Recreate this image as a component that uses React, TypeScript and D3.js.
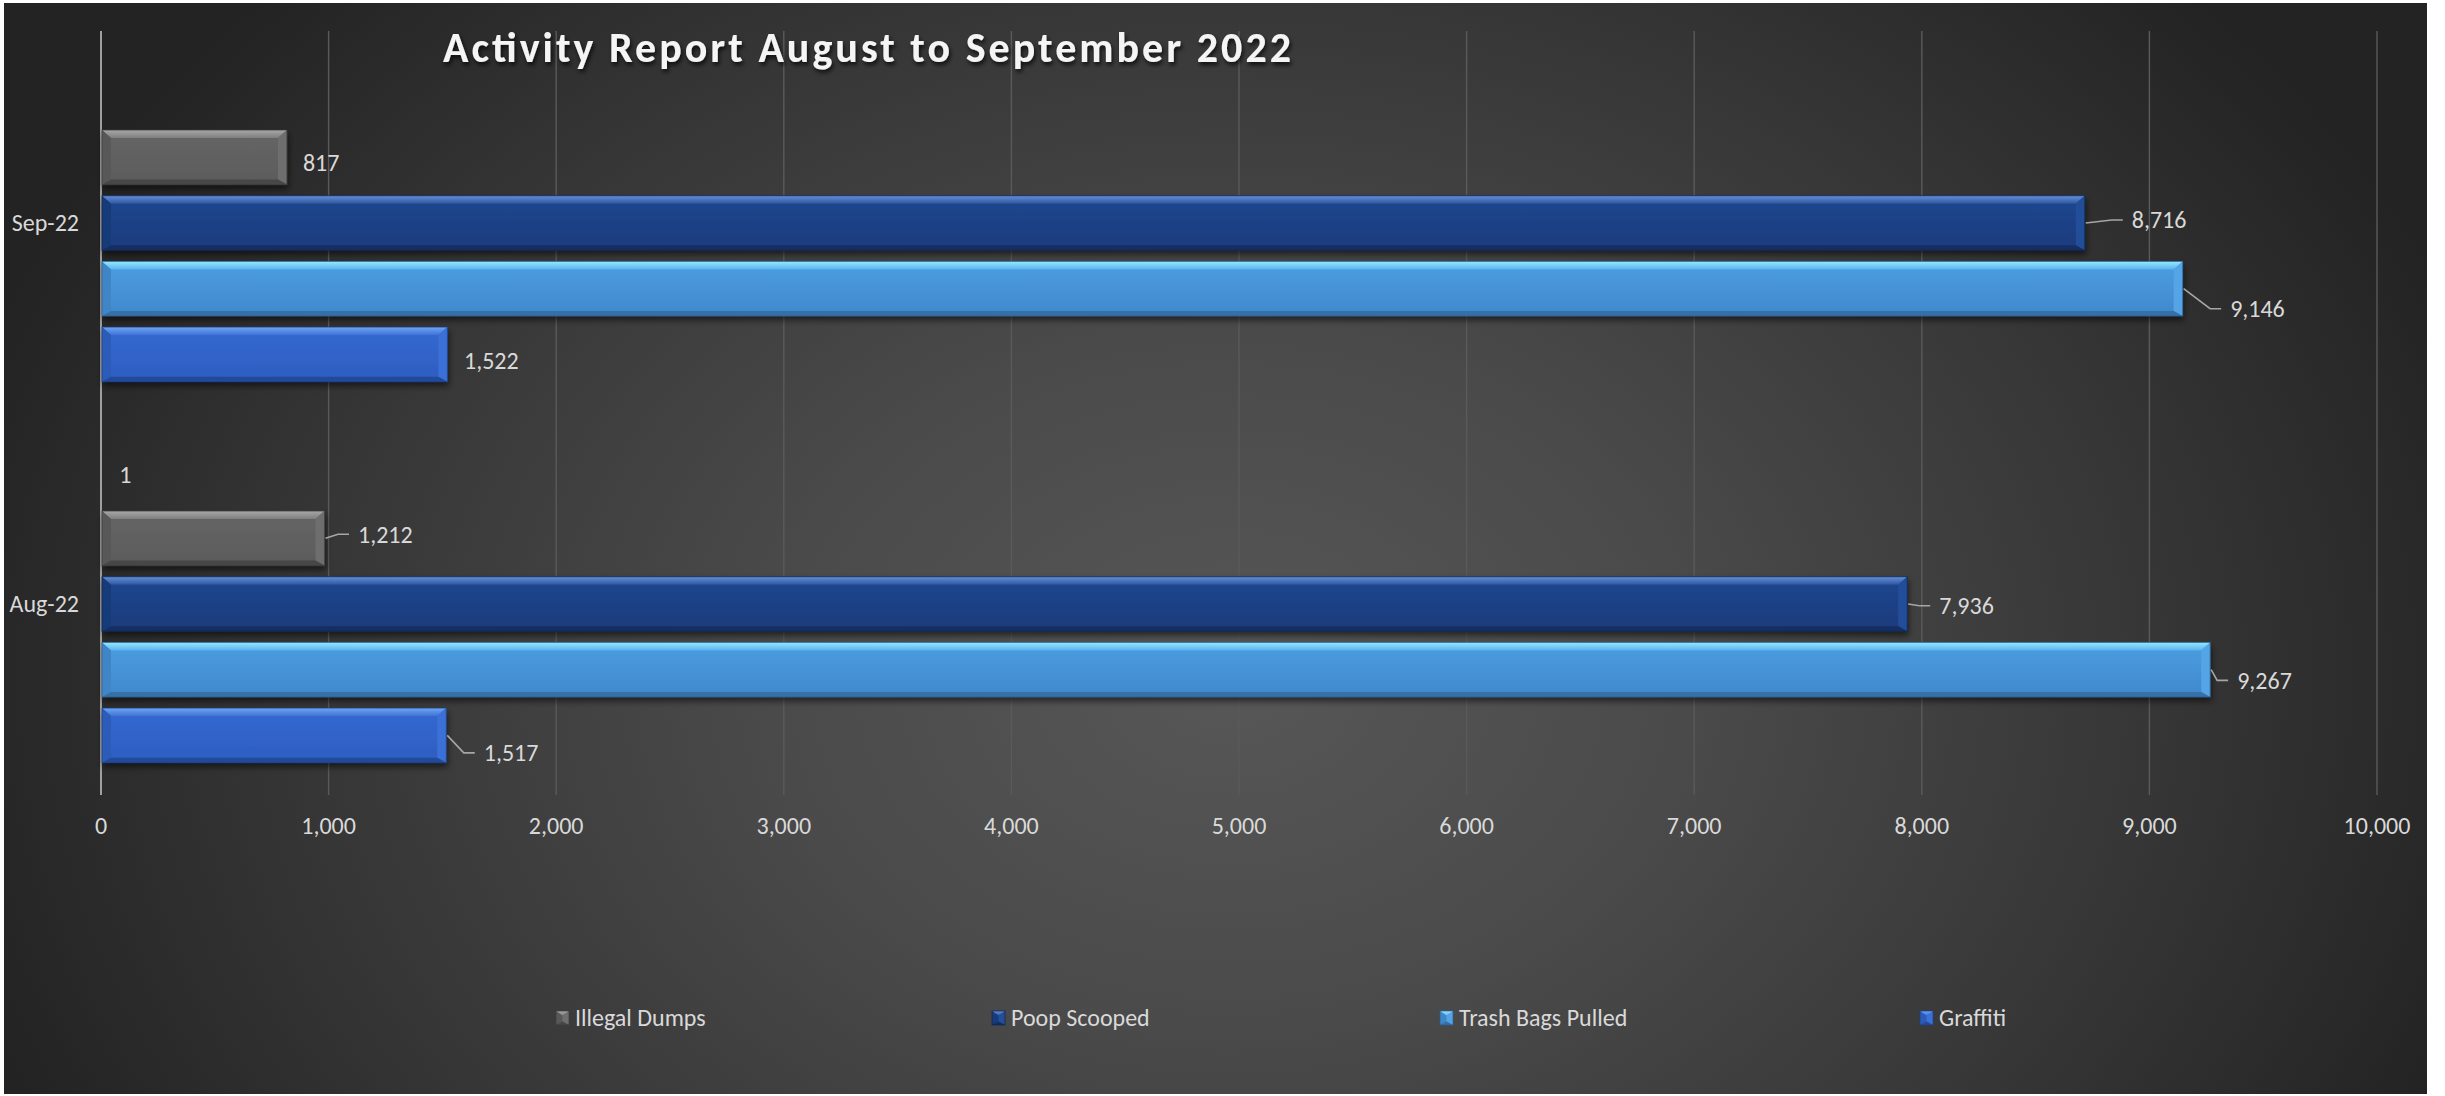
import React from 'react';
import * as d3 from 'd3';

// ---------- DATA ----------
const categories = ['Sep-22', 'Aug-22']; // top to bottom
const seriesKeys = ['extra', 'illegal', 'poop', 'trash', 'graffiti']; // top to bottom in a group
const seriesNames = ['', 'Illegal Dumps', 'Poop Scooped', 'Trash Bags Pulled', 'Graffiti'];
// values ordered as categories: [Sep-22, Aug-22]
const extraSeries: (number | null)[] = [null, 1];
const illegalDumps = [817, 982];
const poopScooped = [8716, 7936];
const trashBagsPulled = [9146, 9267];
const graffiti = [1522, 1517];
const illegalDumpsLabels = ['817', '1,212'];
const xTickValues = [0, 1000, 2000, 3000, 4000, 5000, 6000, 7000, 8000, 9000, 10000];
const title = 'Activity Report August to September 2022';

// ---------- LAYOUT / STYLE ----------
const W = 2445;
const H = 1096;
const FONT = "Carlito, Calibri, 'Open Sans', sans-serif";
const FS = 24;
const seriesValues = [extraSeries, illegalDumps, poopScooped, trashBagsPulled, graffiti];

// label placement relative to bar end (dx) and bar centre (dy); leader = has leader line
const labelLayout: Record<string, { dx: number; dy: number; leader: boolean }[]> = {
  extra: [{ dx: 18, dy: 1.5, leader: false }, { dx: 18, dy: 1.5, leader: false }],
  illegal: [{ dx: 16, dy: 5, leader: false }, { dx: 33.5, dy: -4, leader: true }],
  poop: [{ dx: 47, dy: -3, leader: true }, { dx: 32, dy: 1.7, leader: true }],
  trash: [{ dx: 47.5, dy: 20, leader: true }, { dx: 27, dy: 10.7, leader: true }],
  graffiti: [{ dx: 16.6, dy: 6.7, leader: false }, { dx: 37.5, dy: 17.5, leader: true }],
};

type Pal = { t1: string; t2: string; b1: string; b2: string; l: string; r: string; bo: string; st: string };
const palettes: Record<string, Pal> = {
  extra: { t1: '#a3a3a3', t2: '#7a7a7a', b1: '#666', b2: '#5a5a5a', l: '#575757', r: '#6d6d6d', bo: '#474747', st: '#3a3a3a' },
  illegal: { t1: '#a8a8a8', t2: '#7e7e7e', b1: '#666666', b2: '#5b5b5b', l: '#585858', r: '#6e6e6e', bo: '#474747', st: '#3c3c3c' },
  poop: { t1: '#658fda', t2: '#2f579e', b1: '#1f4790', b2: '#1a3b7b', l: '#193b79', r: '#244e98', bo: '#132f63', st: '#0e2450' },
  trash: { t1: '#95e8ff', t2: '#5ab4ee', b1: '#4d9de2', b2: '#3f89cc', l: '#3f86c6', r: '#54a4e5', bo: '#356fa6', st: '#2b5e91' },
  graffiti: { t1: '#70a5f4', t2: '#3e73d6', b1: '#3569d1', b2: '#2d5ec0', l: '#2c5bb8', r: '#3b70d6', bo: '#24499a', st: '#1d3f88' },
};

const legendX = [556, 992, 1440, 1920];

const x = d3.scaleLinear().domain([0, 10000]).range([101, 2377]);
const y = d3.scaleBand<string>().domain(categories).range([32.5, 794.5]).paddingInner(0).paddingOuter(0);
const inner = d3.scaleBand<string>().domain(seriesKeys).range([0, y.bandwidth()]).paddingInner(0.17).paddingOuter(0.485);
const fmt = d3.format(',');

function BevelBar({ x0, x1, y0, h, k }: { x0: number; x1: number; y0: number; h: number; k: string }) {
  const y1 = y0 + h;
  const w = x1 - x0;
  const bs = Math.min(9, w / 2);
  const bt = Math.min(8, h / 3);
  const bb = Math.min(5, h / 4);
  const pts = (a: number[][]) => a.map((p) => p.join(',')).join(' ');
  const p = palettes[k];
  return (
    <g>
      <rect x={x0} y={y0} width={w} height={h} fill={`url(#body-${k})`} />
      <polygon points={pts([[x0, y0], [x1, y0], [x1 - bs, y0 + bt], [x0 + bs, y0 + bt]])} fill={`url(#top-${k})`} />
      <polygon points={pts([[x0, y0], [x0 + bs, y0 + bt], [x0 + bs, y1 - bb], [x0, y1]])} fill={p.l} />
      <polygon points={pts([[x1, y0], [x1, y1], [x1 - bs, y1 - bb], [x1 - bs, y0 + bt]])} fill={p.r} />
      <polygon points={pts([[x0, y1], [x0 + bs, y1 - bb], [x1 - bs, y1 - bb], [x1, y1]])} fill={p.bo} />
      <rect x={x0} y={y0} width={w} height={h} fill="none" stroke={p.st} strokeWidth={1} strokeOpacity={0.7} />
    </g>
  );
}

export default function App() {
  const bars: React.ReactNode[] = [];
  const labels: React.ReactNode[] = [];
  categories.forEach((cat, ci) => {
    seriesKeys.forEach((k, si) => {
      const v = seriesValues[si][ci];
      if (v == null) return;
      const by = (y(cat) as number) + (inner(k) as number);
      const bh = inner.bandwidth();
      const xe = x(v);
      const yc = by + bh / 2;
      if (v >= 10) {
        bars.push(
          <g key={`b-${cat}-${k}`} filter="url(#barShadow)">
            <BevelBar x0={x(0) + 1} x1={xe} y0={by} h={bh} k={k} />
          </g>
        );
      }
      const lay = labelLayout[k][ci];
      const lx = xe + lay.dx;
      const ly = yc + lay.dy;
      const txt = k === 'illegal' ? illegalDumpsLabels[ci] : fmt(v);
      if (lay.leader) {
        labels.push(
          <path
            key={`ll-${cat}-${k}`}
            d={`M${xe + 1},${yc} L${lx - 20},${ly} L${lx - 9},${ly}`}
            fill="none"
            stroke="#a6a6a6"
            strokeWidth={1.6}
          />
        );
      }
      labels.push(
        <text key={`l-${cat}-${k}`} x={lx} y={ly} dy="0.35em" fill="#d9d9d9" fontSize={FS} fontFamily={FONT}>
          {txt}
        </text>
      );
    });
  });

  return (
    <div style={{ position: 'absolute', left: 0, top: 0, width: W, height: H, background: '#fff' }}>
      <svg width={W} height={H} viewBox={`0 0 ${W} ${H}`} style={{ display: 'block' }}>
        <defs>
          <radialGradient
            id="bg"
            gradientUnits="userSpaceOnUse"
            cx="0"
            cy="0"
            r="1"
            gradientTransform="translate(1230,680) scale(1320,1000)"
          >
            <stop offset="0" stopColor="#575757" />
            <stop offset="0.35" stopColor="#4a4a4a" />
            <stop offset="0.7" stopColor="#363636" />
            <stop offset="1" stopColor="#232323" />
          </radialGradient>
          {seriesKeys.map((k) => (
            <React.Fragment key={k}>
              <linearGradient id={`body-${k}`} x1="0" y1="0" x2="0" y2="1">
                <stop offset="0" stopColor={palettes[k].b1} />
                <stop offset="1" stopColor={palettes[k].b2} />
              </linearGradient>
              <linearGradient id={`top-${k}`} x1="0" y1="0" x2="0" y2="1">
                <stop offset="0" stopColor={palettes[k].t1} />
                <stop offset="1" stopColor={palettes[k].t2} />
              </linearGradient>
            </React.Fragment>
          ))}
          <filter id="barShadow" x="-5%" y="-30%" width="110%" height="170%">
            <feDropShadow dx="1" dy="4" stdDeviation="3" floodColor="#000" floodOpacity="0.55" />
          </filter>
          <filter id="titleShadow" x="-5%" y="-30%" width="110%" height="170%">
            <feDropShadow dx="1.5" dy="3" stdDeviation="2" floodColor="#000" floodOpacity="0.75" />
          </filter>
        </defs>

        <rect x={4} y={3} width={2423} height={1091} fill="url(#bg)" />

        {/* gridlines */}
        {xTickValues.slice(1).map((t) => (
          <line key={`g${t}`} x1={x(t)} x2={x(t)} y1={31} y2={795} stroke="#5a5a5a" strokeWidth={1.4} />
        ))}
        <line x1={x(0)} x2={x(0)} y1={31} y2={795} stroke="#a0a0a0" strokeWidth={2} />

        {/* tick labels */}
        {xTickValues.map((t) => (
          <text key={`t${t}`} x={x(t)} y={826} dy="0.35em" textAnchor="middle" fill="#d9d9d9" fontSize={FS} fontFamily={FONT}>
            {fmt(t)}
          </text>
        ))}

        {/* category labels */}
        {categories.map((c) => (
          <text
            key={c}
            x={79}
            y={(y(c) as number) + (inner('poop') as number) + inner.bandwidth() / 2}
            dy="0.35em"
            textAnchor="end"
            fill="#d9d9d9"
            fontSize={FS}
            fontFamily={FONT}
          >
            {c}
          </text>
        ))}

        {bars}
        {labels}

        {/* title */}
        <text
          x={443}
          y={62}
          fill="#f5f5f5"
          fontSize={42}
          fontWeight={700}
          fontFamily={FONT}
          textLength={848}
          lengthAdjust="spacing"
          filter="url(#titleShadow)"
        >
          {title}
        </text>

        {/* legend */}
        {seriesKeys.slice(1).map((k, i) => {
          const lx = legendX[i];
          return (
            <g key={`lg-${k}`}>
              <BevelBar x0={lx} x1={lx + 13} y0={1011} h={14} k={k} />
              <text x={lx + 19} y={1018} dy="0.35em" fill="#d9d9d9" fontSize={FS} fontFamily={FONT}>
                {seriesNames[i + 1]}
              </text>
            </g>
          );
        })}
      </svg>
    </div>
  );
}
